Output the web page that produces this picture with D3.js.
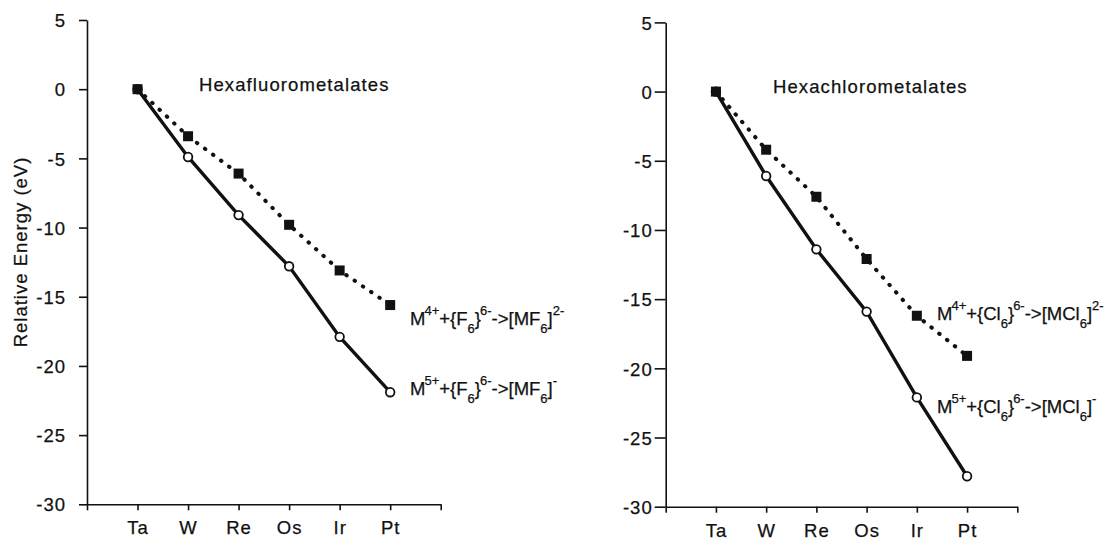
<!DOCTYPE html>
<html>
<head>
<meta charset="utf-8">
<script src="https://cdn.jsdelivr.net/npm/d3@7"></script>
<style>
  body { margin: 0; background: #fff; }
  svg text { font-family: "Liberation Sans", Arial, sans-serif; fill: #111; stroke: #111; stroke-width: 0.25px; }
  .axis path, .axis line { stroke: #111; stroke-width: 1.6; }
  .axis text { font-size: 18.5px; letter-spacing: 1px; }
</style>
</head>
<body>
<div id="chart"></div>
<script>
// categories and values
var metals = ["Ta", "W", "Re", "Os", "Ir", "Pt"];
var fluoroM4 = [0, -3.4, -6.1, -9.8, -13.1, -15.6];
var fluoroM5 = [0, -4.9, -9.1, -12.8, -17.9, -21.9];
var chloroM4 = [0, -4.2, -7.6, -12.1, -16.2, -19.1];
var chloroM5 = [0, -6.1, -11.4, -15.9, -22.1, -27.8];
var yTicks = [5, 0, -5, -10, -15, -20, -25, -30];
var titles = ["Hexafluorometalates", "Hexachlorometalates"];

var svg = d3.select("#chart").append("svg")
    .attr("width", 1112)
    .attr("height", 542);

// panel layouts
var panels = [
  { x0: 87, x1: 440.7, yTop: 20, yBot: 504.3, tickSize: 8, tickPad: 13,
    m4: fluoroM4, m5: fluoroM5, ligand: "F", title: titles[0],
    titleX: 199, titleY: 91, labelX: 410, m4LabelY: 325, m5LabelY: 395 },
  { x0: 665.7, x1: 1017.3, yTop: 22.4, yBot: 506.7, tickSize: 11, tickPad: 2,
    m4: chloroM4, m5: chloroM5, ligand: "Cl", title: titles[1],
    titleX: 773, titleY: 93, labelX: 937, m4LabelY: 320, m5LabelY: 413 }
];

panels.forEach(function(p) {
  var x = d3.scaleLinear().domain([0, 7]).range([p.x0, p.x1]);
  var y = d3.scaleLinear().domain([-30, 5]).range([p.yBot, p.yTop]);

  // y axis
  svg.append("g")
      .attr("class", "axis")
      .attr("transform", "translate(" + p.x0 + ",0)")
      .call(d3.axisLeft(y).tickValues(yTicks).tickSize(p.tickSize)
          .tickSizeOuter(0).tickPadding(p.tickPad)
          .tickFormat(function(d) { return String(d); }))
      .selectAll("text").attr("dy", "0.36em");

  // x axis
  svg.append("g")
      .attr("class", "axis")
      .attr("transform", "translate(0," + p.yBot + ")")
      .call(d3.axisBottom(x).tickValues(d3.range(0, 8)).tickSize(6)
          .tickSizeOuter(0).tickPadding(11)
          .tickFormat(function(d) { return metals[d - 1] || ""; }));

  // lines
  var line = d3.line()
      .x(function(d, i) { return x(i + 1); })
      .y(function(d) { return y(d); });

  svg.append("path")
      .datum(p.m5)
      .attr("d", line)
      .attr("fill", "none")
      .attr("stroke", "#111")
      .attr("stroke-width", 3.4);

  svg.append("path")
      .datum(p.m4)
      .attr("d", line)
      .attr("fill", "none")
      .attr("stroke", "#111")
      .attr("stroke-width", 4)
      .attr("stroke-linecap", "round")
      .attr("stroke-dasharray", "0.5 9.5");

  // open circles
  svg.selectAll(null)
      .data(p.m5)
      .enter().append("circle")
      .attr("cx", function(d, i) { return x(i + 1); })
      .attr("cy", function(d) { return y(d); })
      .attr("r", 4.3)
      .attr("fill", "#fff")
      .attr("stroke", "#111")
      .attr("stroke-width", 1.8);

  // filled squares
  var s = 10;
  svg.selectAll(null)
      .data(p.m4)
      .enter().append("rect")
      .attr("x", function(d, i) { return x(i + 1) - s / 2; })
      .attr("y", function(d) { return y(d) - s / 2; })
      .attr("width", s)
      .attr("height", s)
      .attr("fill", "#111");

  // panel title
  svg.append("text")
      .attr("x", p.titleX)
      .attr("y", p.titleY)
      .style("font-size", "18.5px")
      .style("letter-spacing", "1.1px")
      .text(p.title);

  // series labels
  addLabel(p.labelX, p.m4LabelY, "4+", p.ligand, "2-");
  addLabel(p.labelX, p.m5LabelY, "5+", p.ligand, "-");
});

// y axis title
svg.append("text")
    .attr("transform", "translate(27,252) rotate(-90)")
    .attr("text-anchor", "middle")
    .style("font-size", "18.5px")
    .style("letter-spacing", "1px")
    .text("Relative Energy (eV)");

function addLabel(lx, ly, charge, lig, prodCharge) {
  var t = svg.append("text")
      .attr("x", lx)
      .attr("y", ly)
      .style("font-size", "18.5px");
  var parts = [
    ["M", 0, 0], [charge, -1, 1], ["+{" + lig, 0, 0], ["6", 1, 0],
    ["}", 0, 0], ["6-", -1, 1], ["->[M" + lig, 0, 0], ["6", 1, 0],
    ["]", 0, 0], [prodCharge, -1, 0]
  ];
  var level = 0;
  parts.forEach(function(q) {
    var shift = { "-1": -10, "0": 0, "1": 8 }[q[1]];
    var dy = shift - level;
    level = shift;
    t.append("tspan")
        .attr("dy", dy)
        .attr("dx", q[2] ? -1 : 0)
        .style("font-size", q[1] === 0 ? "18.5px" : "13px")
        .text(q[0]);
  });
}
</script>
</body>
</html>
